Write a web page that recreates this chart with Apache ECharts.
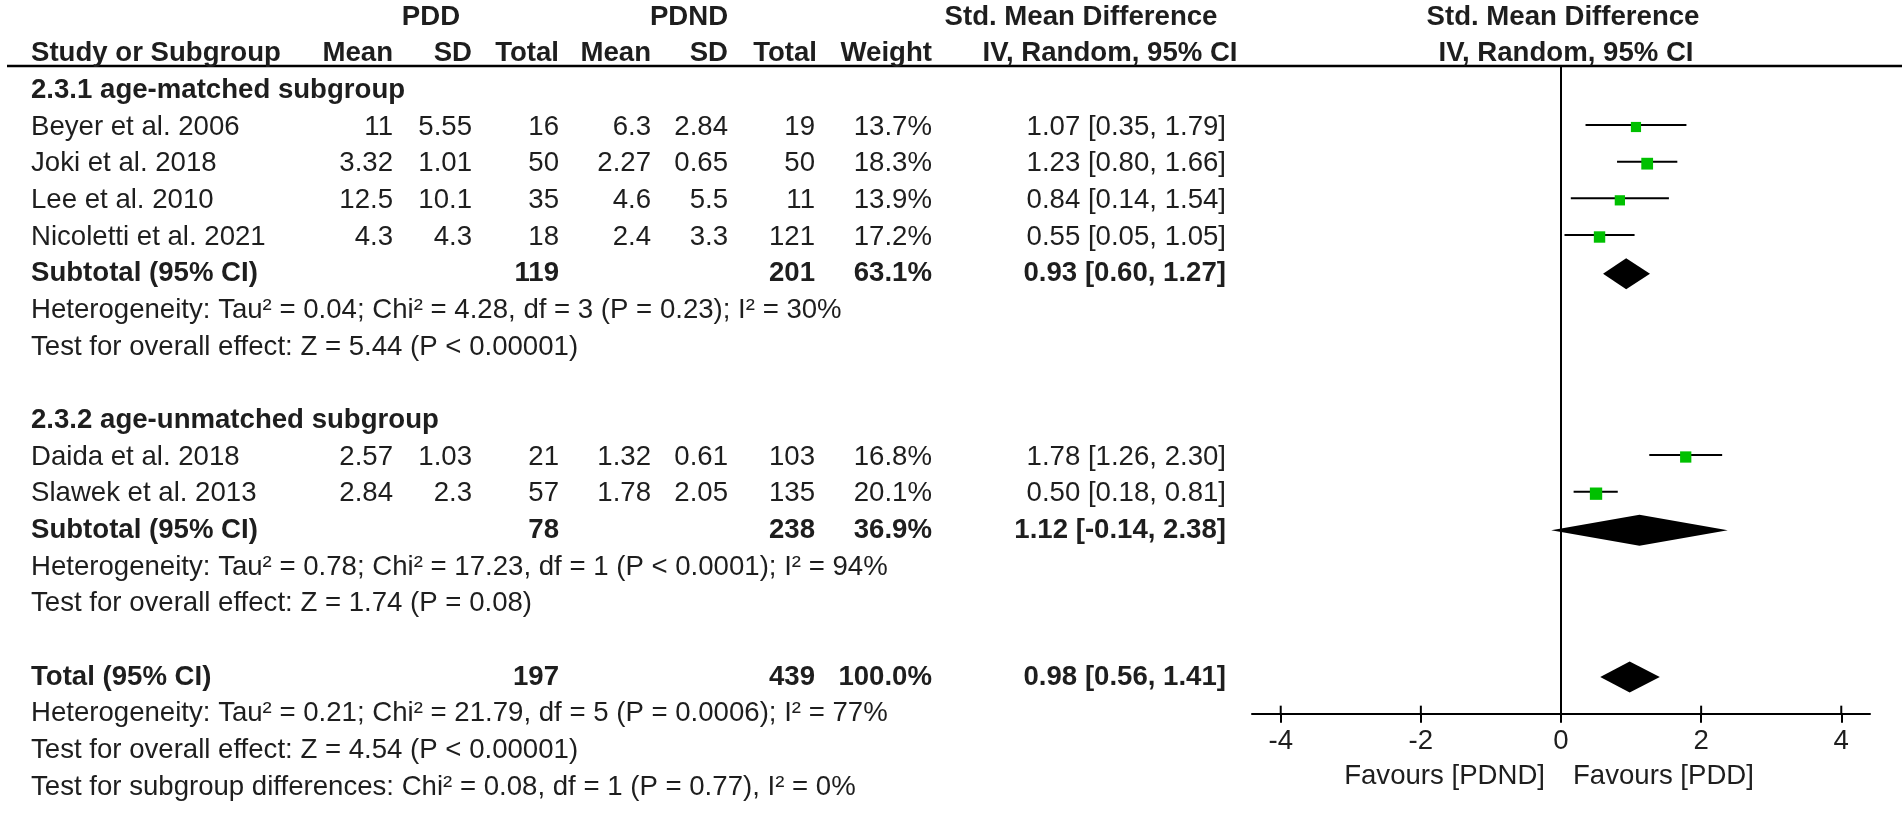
<!DOCTYPE html>
<html><head><meta charset="utf-8">
<script src="https://cdn.jsdelivr.net/npm/echarts@6/dist/echarts.min.js"></script>
<style>html,body{margin:0;padding:0;background:#fff}#c{width:1902px;height:814px}</style>
</head><body><div id="c"></div>
<script>
// ---- data ----
const studies = ['Beyer et al. 2006', 'Joki et al. 2018', 'Lee et al. 2010', 'Nicoletti et al. 2021', 'Daida et al. 2018', 'Slawek et al. 2013'];
const studyGroup = [0, 0, 0, 0, 1, 1];
const pddMean = [11, 3.32, 12.5, 4.3, 2.57, 2.84];
const pddSD = [5.55, 1.01, 10.1, 4.3, 1.03, 2.3];
const pddTotal = [16, 50, 35, 18, 21, 57];
const pdndMean = [6.3, 2.27, 4.6, 2.4, 1.32, 1.78];
const pdndSD = [2.84, 0.65, 5.5, 3.3, 0.61, 2.05];
const pdndTotal = [19, 50, 11, 121, 103, 135];
const weight = [13.7, 18.3, 13.9, 17.2, 16.8, 20.1];
const smd = [1.07, 1.23, 0.84, 0.55, 1.78, 0.50];
const ciLow = [0.35, 0.80, 0.14, 0.05, 1.26, 0.18];
const ciHigh = [1.79, 1.66, 1.54, 1.05, 2.30, 0.81];

const subgroupNames = ['2.3.1 age-matched subgroup', '2.3.2 age-unmatched subgroup'];
const subPddTotal = [119, 78];
const subPdndTotal = [201, 238];
const subWeight = [63.1, 36.9];
const subSmd = [0.93, 1.12];
const subLow = [0.60, -0.14];
const subHigh = [1.27, 2.38];
const subHetText = ['Heterogeneity: Tau² = 0.04; Chi² = 4.28, df = 3 (P = 0.23); I² = 30%',
                    'Heterogeneity: Tau² = 0.78; Chi² = 17.23, df = 1 (P < 0.0001); I² = 94%'];
const subTestText = ['Test for overall effect: Z = 5.44 (P < 0.00001)',
                     'Test for overall effect: Z = 1.74 (P = 0.08)'];

const totPdd = 197, totPdnd = 439, totWeight = 100.0, totSmd = 0.98, totLow = 0.56, totHigh = 1.41;
const totHetText = 'Heterogeneity: Tau² = 0.21; Chi² = 21.79, df = 5 (P = 0.0006); I² = 77%';
const totTestText = 'Test for overall effect: Z = 4.54 (P < 0.00001)';
const subDiffText = 'Test for subgroup differences: Chi² = 0.08, df = 1 (P = 0.77), I² = 0%';

const axisTicks = [-4, -2, 0, 2, 4];
const favLeft = 'Favours [PDND]', favRight = 'Favours [PDD]';

// ---- layout ----
const FF = '"Liberation Sans", Arial, Helvetica, sans-serif';
const FS = 27.6;
const TXT = '#1e1e1e';
const GREEN = '#00c000';
const COL = {name: 31, pddMean: 393, pddSD: 472, pddTotal: 559, pdndMean: 651, pdndSD: 728,
             pdndTotal: 815, weight: 932, ci: 1226, pddHead: 431, pdndHead: 689, ciHead1: 1081, ciHead2: 1110,
             plotHead1: 1563, plotHead2: 1566};

const cells = [];   // [x, row, text, align, bold]
function cell(x, row, text, align, bold) { cells.push([x, row, String(text), align, bold ? 1 : 0]); }
const marks = [];   // [est, row, low, high, weight, kind]  kind 0 study, 1 diamond
const fmtCI = (e, l, h) => e.toFixed(2) + ' [' + l.toFixed(2) + ', ' + h.toFixed(2) + ']';

// header
cell(COL.pddHead, -1, 'PDD', 'center', 1);
cell(COL.pdndHead, -1, 'PDND', 'center', 1);
cell(COL.ciHead1, -1, 'Std. Mean Difference', 'center', 1);
cell(COL.plotHead1, -1, 'Std. Mean Difference', 'center', 1);
cell(COL.name, 0, 'Study or Subgroup', 'left', 1);
cell(COL.pddMean, 0, 'Mean', 'right', 1);
cell(COL.pddSD, 0, 'SD', 'right', 1);
cell(COL.pddTotal, 0, 'Total', 'right', 1);
cell(COL.pdndMean, 0, 'Mean', 'right', 1);
cell(COL.pdndSD, 0, 'SD', 'right', 1);
cell(COL.pdndTotal + 2, 0, 'Total', 'right', 1);
cell(COL.weight, 0, 'Weight', 'right', 1);
cell(COL.ciHead2, 0, 'IV, Random, 95% CI', 'center', 1);
cell(COL.plotHead2, 0, 'IV, Random, 95% CI', 'center', 1);

let row = 1;
for (let g = 0; g < subgroupNames.length; g++) {
  cell(COL.name, row, subgroupNames[g], 'left', 1); row++;
  for (let i = 0; i < studies.length; i++) {
    if (studyGroup[i] !== g) continue;
    cell(COL.name, row, studies[i], 'left', 0);
    cell(COL.pddMean, row, pddMean[i], 'right', 0);
    cell(COL.pddSD, row, pddSD[i], 'right', 0);
    cell(COL.pddTotal, row, pddTotal[i], 'right', 0);
    cell(COL.pdndMean, row, pdndMean[i], 'right', 0);
    cell(COL.pdndSD, row, pdndSD[i], 'right', 0);
    cell(COL.pdndTotal, row, pdndTotal[i], 'right', 0);
    cell(COL.weight, row, weight[i].toFixed(1) + '%', 'right', 0);
    cell(COL.ci, row, fmtCI(smd[i], ciLow[i], ciHigh[i]), 'right', 0);
    marks.push([smd[i], row, ciLow[i], ciHigh[i], weight[i], 0]);
    row++;
  }
  cell(COL.name, row, 'Subtotal (95% CI)', 'left', 1);
  cell(COL.pddTotal, row, subPddTotal[g], 'right', 1);
  cell(COL.pdndTotal, row, subPdndTotal[g], 'right', 1);
  cell(COL.weight, row, subWeight[g].toFixed(1) + '%', 'right', 1);
  cell(COL.ci, row, fmtCI(subSmd[g], subLow[g], subHigh[g]), 'right', 1);
  marks.push([subSmd[g], row, subLow[g], subHigh[g], subWeight[g], 1]);
  row++;
  cell(COL.name, row, subHetText[g], 'left', 0); row++;
  cell(COL.name, row, subTestText[g], 'left', 0); row++;
  row++; // blank
}
cell(COL.name, row, 'Total (95% CI)', 'left', 1);
cell(COL.pddTotal, row, totPdd, 'right', 1);
cell(COL.pdndTotal, row, totPdnd, 'right', 1);
cell(COL.weight, row, totWeight.toFixed(1) + '%', 'right', 1);
cell(COL.ci, row, fmtCI(totSmd, totLow, totHigh), 'right', 1);
marks.push([totSmd, row, totLow, totHigh, totWeight, 1]);
row++;
const axisRow = row;
cell(COL.name, row, totHetText, 'left', 0); row++;
cell(COL.name, row, totTestText, 'left', 0); row++;
cell(COL.name, row, subDiffText, 'left', 0);
const lastRow = row;

const ROWH = 36.667, TOP = 17;
const chart = echarts.init(document.getElementById('c'), null, {renderer: 'canvas'});

const option = {
  animation: false,
  backgroundColor: '#ffffff',
  grid: [
    {left: 1252, width: 618, top: TOP, height: (axisRow + 1) * ROWH},
    {left: 0, width: 1902, top: TOP, height: (lastRow + 1) * ROWH}
  ],
  xAxis: [
    {gridIndex: 0, type: 'value', min: -4.41, max: 4.41, position: 'bottom',
     splitLine: {show: false},
     axisLine: {show: true, onZero: false, lineStyle: {color: '#000', width: 2}},
     axisTick: {show: true, length: 9, inside: false, customValues: axisTicks, lineStyle: {color: '#000', width: 2}},
     axisLabel: {show: true, customValues: axisTicks, margin: 14, color: TXT, fontSize: FS, fontFamily: FF}},
    {gridIndex: 1, type: 'value', min: 0, max: 1902, show: false}
  ],
  yAxis: [
    {gridIndex: 0, type: 'value', min: -1, max: axisRow, inverse: true, show: false},
    {gridIndex: 1, type: 'value', min: -1, max: lastRow, inverse: true, show: false}
  ],
  series: [
    {
      type: 'custom', xAxisIndex: 1, yAxisIndex: 1, clip: false, silent: true,
      data: cells,
      renderItem: function (params, api) {
        const d = cells[params.dataIndex];
        const p = api.coord([d[0], d[1]]);
        return {type: 'text', x: p[0], y: p[1],
          style: {text: d[2], fill: TXT, align: d[3], verticalAlign: 'middle',
                  font: (d[4] ? 'bold ' : '') + FS + 'px ' + FF}};
      }
    },
    {
      type: 'custom', xAxisIndex: 0, yAxisIndex: 0, clip: false, silent: true,
      data: marks,
      renderItem: function (params, api) {
        const d = marks[params.dataIndex];
        const c = api.coord([d[0], d[1]]);
        const l = api.coord([d[2], d[1]]);
        const h = api.coord([d[3], d[1]]);
        if (d[5] === 0) {
          const side = 2.75 * Math.sqrt(d[4]);
          return {type: 'group', children: [
            {type: 'line', shape: {x1: l[0], y1: c[1] - 2, x2: h[0], y2: c[1] - 2}, style: {stroke: '#000', lineWidth: 2}},
            {type: 'rect', shape: {x: c[0] - side / 2, y: c[1] - side / 2, width: side, height: side}, style: {fill: GREEN}}
          ]};
        }
        const hh = 15.5;
        return {type: 'polygon', shape: {points: [[l[0], c[1]], [c[0], c[1] - hh], [h[0], c[1]], [c[0], c[1] + hh]]},
                style: {fill: '#000'}};
      }
    },
    {
      // upper half of the axis ticks (ticks cross the axis line)
      type: 'custom', xAxisIndex: 0, yAxisIndex: 0, clip: false, silent: true,
      data: axisTicks.map(v => [v, axisRow]),
      renderItem: function (params, api) {
        const p = api.coord([api.value(0), api.value(1)]);
        return {type: 'line', shape: {x1: p[0], y1: p[1], x2: p[0], y2: p[1] - 8}, style: {stroke: '#000', lineWidth: 2}};
      }
    }
  ]
};
chart.setOption(option);

// reference lines and axis captions placed from the axis scale
const zeroX = chart.convertToPixel({xAxisIndex: 0}, 0);
const axisY = chart.convertToPixel({yAxisIndex: 0}, axisRow);
const headLineY = 66;
const capY = axisY + 63;
chart.setOption({
  graphic: [
    {type: 'line', shape: {x1: 7, y1: headLineY, x2: 1902, y2: headLineY}, style: {stroke: '#000', lineWidth: 2.5}},
    {type: 'line', shape: {x1: zeroX, y1: headLineY, x2: zeroX, y2: axisY}, style: {stroke: '#000', lineWidth: 2}},
    {type: 'text', x: zeroX - 16, y: capY, style: {text: favLeft, fill: TXT, align: 'right', verticalAlign: 'middle', font: FS + 'px ' + FF}},
    {type: 'text', x: zeroX + 12, y: capY, style: {text: favRight, fill: TXT, align: 'left', verticalAlign: 'middle', font: FS + 'px ' + FF}}
  ]
});
</script>
</body></html>
